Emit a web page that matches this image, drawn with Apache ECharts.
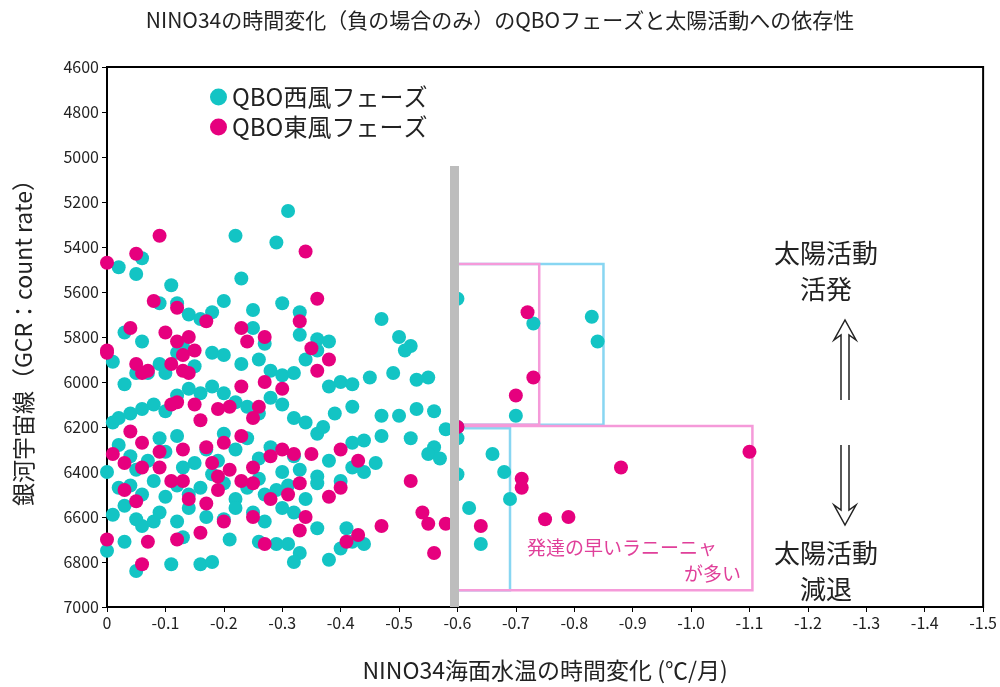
<!DOCTYPE html>
<html><head><meta charset="utf-8">
<script src="https://cdn.jsdelivr.net/npm/echarts@6/dist/echarts.min.js"></script>
<style>html,body{margin:0;padding:0;background:#fff}#c{width:1000px;height:687px}</style>
</head><body><div id="c"></div>
<script>
const westPhase = [
[0.02,5490],[0.06,5450],[0.05,5520],[0.03,5780],[0.06,5820],[0.09,5650],[0.11,5570],[0.12,5650],[0.14,5700],[0.16,5720],[0.18,5690],[0.20,5640],[0.23,5540],[0.25,5680],[0.22,5350],[0.25,5760],[0.27,5830],[0.30,5650],[0.31,5240],[0.29,5380],[0.33,5690],[0.33,5790],[0.36,5810],[0.38,5820],[0.36,5860],[0.47,5720],[0.50,5800],[0.52,5840],[0.51,5860],
[0.01,5910],[0.03,6010],[0.05,5960],[0.07,5960],[0.09,5920],[0.10,5960],[0.12,5870],[0.13,5840],[0.15,5930],[0.18,5870],[0.20,5880],[0.23,5920],[0.26,5900],[0.28,5950],[0.30,5970],[0.34,5900],[0.32,5960],[0.38,6020],[0.40,6000],[0.42,6010],[0.45,5980],[0.49,5960],[0.53,5990],[0.55,5980],[0.53,6120],[0.56,6130],[0.47,6150],[0.42,6110],
[0.01,6180],[0.02,6160],[0.04,6140],[0.06,6120],[0.08,6100],[0.10,6130],[0.12,6060],[0.14,6030],[0.16,6050],[0.18,6020],[0.20,6050],[0.22,6090],[0.24,6110],[0.26,6140],[0.28,6070],[0.30,6100],[0.32,6160],[0.34,6180],[0.36,6230],[0.37,6200],[0.39,6140],[0.42,6270],[0.44,6260],[0.47,6240],[0.50,6150],[0.52,6250],[0.56,6290],[0.58,6210],[0.55,6320],[0.57,6340],
[0.02,6280],[0.04,6330],[0.05,6390],[0.07,6350],[0.09,6250],[0.10,6310],[0.12,6240],[0.13,6380],[0.15,6360],[0.17,6300],[0.19,6350],[0.20,6230],[0.22,6300],[0.24,6250],[0.26,6340],[0.28,6290],[0.30,6400],[0.32,6330],[0.33,6390],[0.36,6420],[0.38,6350],[0.42,6380],[0.44,6400],[0.46,6360],
[0.00,6400],[0.02,6470],[0.04,6460],[0.06,6500],[0.08,6440],[0.10,6510],[0.12,6460],[0.14,6500],[0.16,6470],[0.18,6410],[0.20,6450],[0.22,6520],[0.24,6470],[0.26,6430],[0.27,6500],[0.29,6480],[0.31,6460],[0.34,6520],[0.36,6450],[0.40,6440],
[0.01,6590],[0.03,6550],[0.05,6610],[0.06,6640],[0.08,6620],[0.09,6580],[0.12,6620],[0.14,6560],[0.17,6600],[0.20,6610],[0.22,6560],[0.25,6580],[0.27,6620],[0.30,6560],[0.32,6580],[0.36,6650],[0.41,6650],[0.42,6710],[0.44,6720],[0.40,6740],[0.38,6790],[0.33,6760],
[0.00,6750],[0.03,6710],[0.05,6840],[0.11,6810],[0.16,6810],[0.18,6800],[0.21,6700],[0.29,6720],[0.31,6720],[0.32,6800],[0.26,6710],[0.13,6690],
[0.60,5630],[0.60,6200],[0.60,6250],[0.60,6410],[0.62,6560],[0.64,6720],[0.66,6320],[0.68,6400],[0.69,6520],[0.70,6150],[0.73,5740],[0.83,5710],[0.84,5820]
];
const eastPhase = [
[0.00,5470],[0.09,5350],[0.05,5430],[0.04,5760],[0.00,5870],[0.00,5860],[0.08,5640],[0.12,5670],[0.10,5780],[0.12,5820],[0.14,5800],[0.13,5880],[0.15,5860],[0.17,5730],[0.23,5760],[0.24,5820],[0.27,5800],[0.33,5730],[0.36,5630],[0.34,5420],[0.35,5850],[0.38,5900],[0.36,5950],
[0.05,5920],[0.06,5960],[0.07,5950],[0.11,5920],[0.13,5950],[0.14,5960],[0.12,6090],[0.15,6100],[0.11,6100],[0.16,6170],[0.19,6120],[0.21,6110],[0.23,6020],[0.27,6000],[0.30,6030],[0.26,6110],[0.25,6160],[0.23,6240],[0.20,6270],[0.17,6290],[0.13,6300],[0.09,6310],[0.06,6270],[0.04,6220],
[0.01,6320],[0.03,6360],[0.06,6380],[0.09,6380],[0.11,6440],[0.13,6440],[0.18,6360],[0.19,6420],[0.21,6390],[0.23,6440],[0.25,6380],[0.28,6330],[0.30,6300],[0.32,6320],[0.35,6320],[0.33,6450],[0.40,6300],[0.43,6350],[0.40,6470],[0.38,6510],
[0.03,6480],[0.05,6530],[0.14,6520],[0.17,6540],[0.19,6480],[0.25,6450],[0.28,6520],[0.31,6500],[0.34,6600],[0.33,6660],[0.25,6600],[0.20,6620],[0.16,6670],[0.12,6700],[0.07,6710],[0.00,6700],[0.06,6810],[0.27,6720],[0.41,6710],[0.43,6680],[0.47,6640],[0.52,6440],[0.54,6580],[0.55,6630],[0.56,6760],
[0.58,6630],[0.60,6200],[0.64,6640],[0.71,6430],[0.71,6470],[0.72,5690],[0.73,5980],[0.70,6060],[0.75,6610],[0.79,6600],[0.88,6380],[1.10,6310]
];
const seriesNames = ['QBO西風フェーズ','QBO東風フェーズ'];
const boxesPink = [[[-0.598,5475],[-0.74,6190]],[[-0.598,6195],[-1.105,6925]]];
const boxesCyan = [[[-0.598,5475],[-0.85,6190]],[[-0.598,6205],[-0.69,6925]]];

const neg = a => a.map(p => [-p[0], p[1]]);
const chart = echarts.init(document.getElementById('c'));
const F = '"Noto Sans CJK JP", sans-serif';
chart.setOption({
  animation:false,
  title:{text:'NINO34の時間変化（負の場合のみ）のQBOフェーズと太陽活動への依存性',left:'center',top:5,textStyle:{fontFamily:F,fontSize:21,fontWeight:'normal',color:'#222'}},
  legend:{orient:'vertical',left:205,top:80,itemGap:6,itemWidth:17,itemHeight:17,icon:'circle',textStyle:{fontFamily:F,fontSize:24,color:'#222'},data:seriesNames},
  grid:{left:107,right:13,top:67,bottom:80,show:true,borderColor:'#000',borderWidth:2},
  xAxis:{type:'value',min:-1.5,max:0,interval:0.1,inverse:true,
    name:'NINO34海面水温の時間変化 (℃/月)',nameLocation:'middle',nameGap:52,nameTextStyle:{fontFamily:F,fontSize:23,color:'#222'},
    axisLine:{lineStyle:{color:'#000',width:2}},axisTick:{lineStyle:{color:'#000'},length:5},splitLine:{show:false},
    axisLabel:{fontFamily:F,fontSize:16,color:'#222',formatter:v=>Math.abs(v)<1e-9?'0':v.toFixed(1)}},
  yAxis:{type:'value',min:4600,max:7000,interval:200,inverse:true,
    name:'銀河宇宙線（GCR：count rate）',nameLocation:'middle',nameGap:72,nameTextStyle:{fontFamily:F,fontSize:23,color:'#222'},
    axisLine:{lineStyle:{color:'#000',width:2}},axisTick:{lineStyle:{color:'#000'},length:5},splitLine:{show:false},
    axisLabel:{fontFamily:F,fontSize:16,color:'#222',formatter:v=>String(v)}},
  series:[
    {name:seriesNames[0],type:'scatter',symbolSize:14,itemStyle:{color:'#13c4c4',opacity:1},data:neg(westPhase),z:3,
     markLine:{silent:true,symbol:'none',label:{show:false},lineStyle:{color:'#bdbdbd',width:9,type:'solid'},
       data:[[{coord:[-0.595,5040]},{coord:[-0.595,7000]}]]},
     markArea:{silent:true,itemStyle:{color:'rgba(0,0,0,0)',borderColor:'#88d6f2',borderWidth:2.5},data:boxesCyan.map(b=>[{coord:b[0]},{coord:b[1]}])}},
    {name:seriesNames[1],type:'scatter',symbolSize:14,itemStyle:{color:'#e6007e',opacity:1},data:neg(eastPhase),z:4,
     markArea:{silent:true,itemStyle:{color:'rgba(0,0,0,0)',borderColor:'#f59ad9',borderWidth:2.5},data:boxesPink.map(b=>[{coord:b[0]},{coord:b[1]}])}}
  ],
  graphic:[
    {type:'text',left:774,top:235,style:{text:'太陽活動\n　活発',fontFamily:F,fontSize:26,lineHeight:36,fill:'#222'}},
    {type:'text',left:774,top:535,style:{text:'太陽活動\n　減退',fontFamily:F,fontSize:26,lineHeight:36,fill:'#222'}},
    {type:'polyline',shape:{points:[[841,400],[841,335],[834,340],[845,320],[856,340],[849,335],[849,400]]},style:{fill:'none',stroke:'#222',lineWidth:1.5}},
    {type:'polyline',shape:{points:[[841,445],[841,510],[834,505],[845,525],[856,505],[849,510],[849,445]]},style:{fill:'none',stroke:'#222',lineWidth:1.5}},
    {type:'text',left:527,top:538,style:{text:'発達の早いラニーニャ',fontFamily:F,fontSize:19,fill:'#e0409a'}},
    {type:'text',left:684,top:564,style:{text:'が多い',fontFamily:F,fontSize:19,fill:'#e0409a'}}
  ]
});
</script></body></html>
